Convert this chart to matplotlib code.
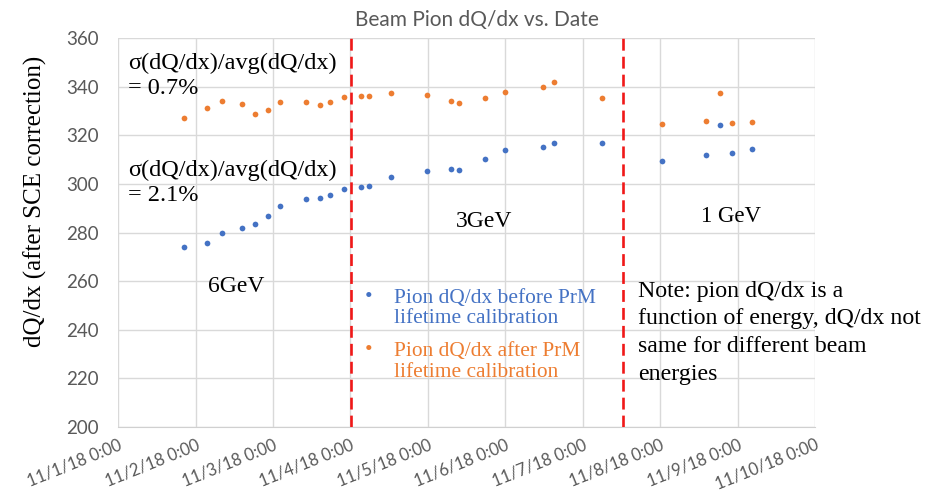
import numpy as np
import pandas as pd
import matplotlib
matplotlib.use("Agg")
import matplotlib.pyplot as plt
import matplotlib.dates as mdates

# ---- data (days after 11/1/18 0:00) ----
START = pd.Timestamp("2018-11-01")
day_offsets = [0.843, 1.145, 1.334, 1.602, 1.771, 1.937, 2.095, 2.419, 2.608,
               2.734, 2.910, 3.134, 3.236, 3.525, 3.986, 4.295, 4.399, 4.742,
               4.990, 5.489, 5.632, 6.245, 7.019, 7.588, 7.767, 7.923, 8.180]
dqdx_before = [273.9, 275.8, 279.7, 282.0, 283.6, 286.7, 291.0, 293.7, 294.1,
               295.3, 297.9, 298.7, 299.0, 302.9, 305.3, 306.0, 305.6, 310.3,
               313.9, 315.2, 317.0, 317.0, 309.3, 312.1, 324.2, 312.7, 314.3]
dqdx_after = [327.3, 331.4, 334.3, 332.9, 328.7, 330.5, 333.9, 333.9, 332.4,
              333.6, 335.9, 336.4, 336.1, 337.5, 336.8, 334.3, 333.2, 335.3,
              337.8, 339.9, 342.0, 335.5, 324.8, 325.9, 337.5, 325.2, 325.5]
energy_switch = [3.01, 6.52]          # red dashed dividers, days
tick_days = list(range(10))
y_ticks = list(range(200, 361, 20))

BLUE = "#4472C4"
ORANGE = "#ED7D31"
GRAY = "#595959"
SERIF = ["Liberation Serif", "DejaVu Serif"]
SANS = ["Lato", "DejaVu Sans"]

base = mdates.date2num(START.to_pydatetime())
x = base + np.array(day_offsets)

fig = plt.figure(figsize=(9.31, 4.94), dpi=100)
ax = fig.add_axes([0.1270, 0.1362, 0.7484, 0.7863])

ax.scatter(x, dqdx_before, s=17, color=BLUE, zorder=3, linewidths=0)
ax.scatter(x, dqdx_after, s=17, color=ORANGE, zorder=3, linewidths=0)

for d in energy_switch:
    ax.axvline(base + d, color="#f01818", lw=1.9, dashes=(4.5, 2.3), zorder=4)

ax.set_xlim(base, base + 9)
ax.set_ylim(200, 360)
ax.set_xticks([base + d for d in tick_days])
ax.set_xticklabels([f"11/{d + 1}/18 0:00" for d in tick_days], rotation=22,
                   ha="right", va="top", rotation_mode="anchor",
                   family=SANS, fontsize=12, color=GRAY)
ax.set_yticks(y_ticks)
ax.set_yticklabels([str(v) for v in y_ticks], family=SANS, fontsize=13.5, color=GRAY)
ax.tick_params(axis="y", length=0, pad=14)
ax.tick_params(axis="x", length=0, pad=7)
ax.grid(True, color="#d9d9d9", lw=1)
ax.set_axisbelow(True)
for side, s in ax.spines.items():
    s.set_visible(side == "bottom")
ax.spines["bottom"].set_color("#d0d0d0")

ax.set_title("Beam Pion dQ/dx vs. Date", family=SANS, fontsize=15,
             color=GRAY, pad=9, x=0.515)
ax.set_ylabel("dQ/dx (after SCE correction)", family=SERIF, fontsize=18)
ax.yaxis.set_label_coords(-0.102, 0.579)

# ---- annotations ----
tr = ax.transAxes
ax.text(0.014, 0.962, "σ(dQ/dx)/avg(dQ/dx)\n= 0.7%", transform=tr, va="top",
        ha="left", family=SERIF, fontsize=17.5, linespacing=1.25)
ax.text(0.014, 0.686, "σ(dQ/dx)/avg(dQ/dx)\n= 2.1%", transform=tr, va="top",
        ha="left", family=SERIF, fontsize=17.5, linespacing=1.25)
ax.text(base + 1.52, 255.3, "6GeV", ha="center", va="baseline", family=SERIF,
        fontsize=17)
ax.text(base + 4.73, 282.4, "3GeV", ha="center", va="baseline", family=SERIF,
        fontsize=17)
ax.text(base + 7.92, 284.5, "1 GeV", ha="center", va="baseline", family=SERIF,
        fontsize=16.5)
# multi-line text: "baseline" pins the last line
ax.text(base + 6.715, 219.3, "Note: pion dQ/dx is a\nfunction of energy, dQ/dx not\n"
        "same for different beam\nenergies", ha="left", va="baseline",
        family=SERIF, fontsize=17.2, linespacing=1.42)

# hand-made legend
ax.text(base + 3.19, 251.5, "•", color=BLUE, ha="left", va="baseline",
        family=SERIF, fontsize=15.4)
ax.text(base + 3.565, 242.6, "Pion dQ/dx before PrM\nlifetime calibration",
        color=BLUE, ha="left", va="baseline", family=SERIF, fontsize=15.4,
        linespacing=1.12)
ax.text(base + 3.19, 229.5, "•", color=ORANGE, ha="left", va="baseline",
        family=SERIF, fontsize=15.4)
ax.text(base + 3.565, 220.6, "Pion dQ/dx after PrM\nlifetime calibration",
        color=ORANGE, ha="left", va="baseline", family=SERIF, fontsize=15.4,
        linespacing=1.12)

fig.savefig("out.png", dpi=100, facecolor="white")
